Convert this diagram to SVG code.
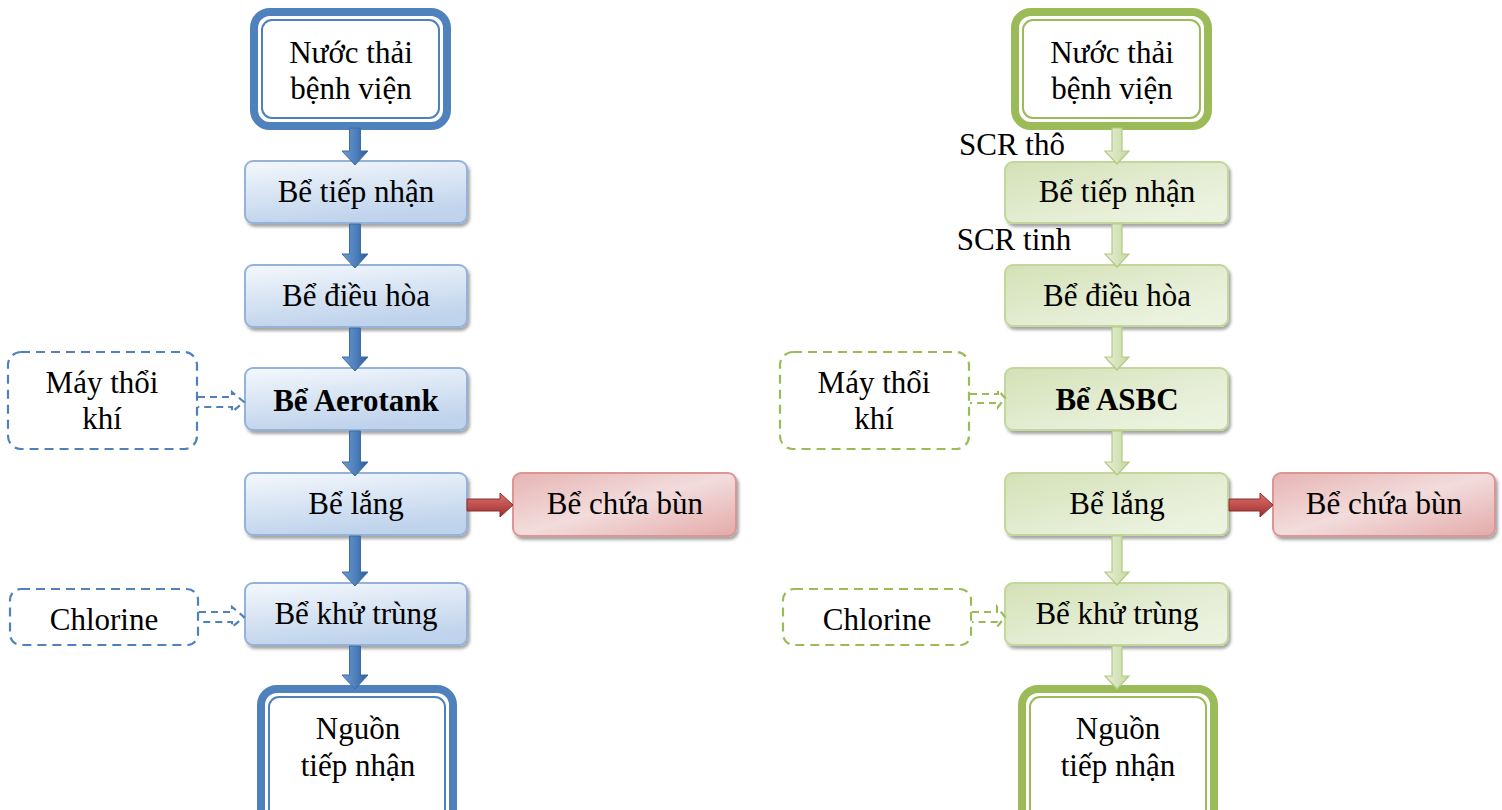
<svg xmlns="http://www.w3.org/2000/svg" width="1502" height="810" viewBox="0 0 1502 810">
<defs>
<linearGradient id="gBlue" x1="0" y1="0" x2="0.3" y2="1"><stop offset="0" stop-color="#f4f8fc"/><stop offset="1" stop-color="#bfd3ec"/></linearGradient>
<linearGradient id="gGreen" x1="0" y1="0" x2="1" y2="1"><stop offset="0" stop-color="#d3e1b6"/><stop offset="0.6" stop-color="#e6eed6"/><stop offset="1" stop-color="#eef4e4"/></linearGradient>
<linearGradient id="gRed" x1="0" y1="0" x2="1" y2="1"><stop offset="0" stop-color="#e6b4b3"/><stop offset="0.5" stop-color="#f3dcdc"/><stop offset="1" stop-color="#e3aaa9"/></linearGradient>
<linearGradient id="aBlue" x1="0" y1="0" x2="1" y2="0"><stop offset="0" stop-color="#6e9ad2"/><stop offset="0.5" stop-color="#4f81bd"/><stop offset="1" stop-color="#2e5d96"/></linearGradient>
<linearGradient id="aGreen" x1="0" y1="0" x2="1" y2="0"><stop offset="0" stop-color="#e8f0d8"/><stop offset="0.5" stop-color="#d7e4bd"/><stop offset="1" stop-color="#c5d89f"/></linearGradient>
<linearGradient id="aRed" x1="0" y1="0" x2="0" y2="1"><stop offset="0" stop-color="#d9706c"/><stop offset="0.5" stop-color="#c0504d"/><stop offset="1" stop-color="#8f302d"/></linearGradient>
<filter id="sh" x="-10%" y="-10%" width="130%" height="140%"><feDropShadow dx="2" dy="3" stdDeviation="1.5" flood-color="#000" flood-opacity="0.35"/></filter>
</defs>
<style>
text{font-family:"Liberation Serif","Times New Roman",serif;font-size:31px;fill:#000;text-anchor:middle}
.b{font-weight:bold}
.bb{fill:url(#gBlue);stroke:#95b3d7;stroke-width:2;filter:url(#sh)}
.gb{fill:url(#gGreen);stroke:#c3d69b;stroke-width:2;filter:url(#sh)}
.rb{fill:url(#gRed);stroke:#d99694;stroke-width:2;filter:url(#sh)}
.fo{fill:#fff;stroke-width:8}
.fi{fill:none;stroke-width:2}
.blue{stroke:#4f81bd}
.green{stroke:#9bbb59}
.db{fill:#fff;stroke-width:2.2;stroke-dasharray:9 6}
.da{fill:none;stroke-width:2.2;stroke-dasharray:7 5}
.ab{fill:url(#aBlue);stroke:#3d6ca6;stroke-width:1}
.ag{fill:url(#aGreen);stroke:#b3ca84;stroke-width:1.2}
.ar{fill:url(#aRed);stroke:#8c2f2c;stroke-width:1}
</style>

<!-- LEFT COLUMN -->
<g id="l-src"><rect class="fo blue" x="254" y="12" width="193" height="114" rx="16"/><rect class="fi blue" x="262" y="20" width="177" height="98" rx="10"/><text x="351" y="63">Nước thải</text><text x="351" y="99">bệnh viện</text></g>
<g id="l-tiepnhan"><rect class="bb" x="245" y="161" width="222" height="62" rx="8"/><text x="356" y="202">Bể tiếp nhận</text></g>
<g id="l-dieuhoa"><rect class="bb" x="245" y="265" width="222" height="62" rx="8"/><text x="356" y="306">Bể điều hòa</text></g>
<g id="l-aerotank"><rect class="bb" x="245" y="368" width="222" height="62" rx="8"/><text class="b" x="356" y="411">Bể Aerotank</text></g>
<g id="l-lang"><rect class="bb" x="245" y="473" width="222" height="62" rx="8"/><text x="356" y="514">Bể lắng</text></g>
<g id="l-khutrung"><rect class="bb" x="245" y="583" width="222" height="62" rx="8"/><text x="356" y="624">Bể khử trùng</text></g>
<g id="l-dst"><rect class="fo blue" x="261" y="689" width="192" height="140" rx="16"/><rect class="fi blue" x="269" y="697" width="176" height="130" rx="10"/><text x="358" y="739">Nguồn</text><text x="358" y="776">tiếp nhận</text></g>
<g id="l-bun"><rect class="rb" x="513" y="473" width="223" height="63" rx="8"/><text x="625" y="514">Bể chứa bùn</text></g>
<g id="l-may"><rect class="db blue" x="8" y="352" width="189" height="97" rx="13"/><text x="102" y="393">Máy thổi</text><text x="102" y="429">khí</text></g>
<g id="l-cl"><rect class="db blue" x="10" y="589" width="188" height="56" rx="11"/><text x="104" y="630">Chlorine</text></g>

<!-- RIGHT COLUMN -->
<g id="r-src"><rect class="fo green" x="1015" y="12" width="193" height="114" rx="16"/><rect class="fi green" x="1023" y="20" width="177" height="98" rx="10"/><text x="1112" y="63">Nước thải</text><text x="1112" y="99">bệnh viện</text></g>
<g id="r-tiepnhan"><rect class="gb" x="1005" y="162" width="223" height="61" rx="8"/><text x="1117" y="202">Bể tiếp nhận</text></g>
<g id="r-dieuhoa"><rect class="gb" x="1005" y="265" width="223" height="61" rx="8"/><text x="1117" y="306">Bể điều hòa</text></g>
<g id="r-asbc"><rect class="gb" x="1005" y="368" width="223" height="62" rx="8"/><text class="b" x="1117" y="410">Bể ASBC</text></g>
<g id="r-lang"><rect class="gb" x="1005" y="473" width="223" height="62" rx="8"/><text x="1117" y="514">Bể lắng</text></g>
<g id="r-khutrung"><rect class="gb" x="1005" y="583" width="223" height="62" rx="8"/><text x="1117" y="624">Bể khử trùng</text></g>
<g id="r-dst"><rect class="fo green" x="1022" y="689" width="192" height="140" rx="16"/><rect class="fi green" x="1030" y="697" width="176" height="130" rx="10"/><text x="1118" y="739">Nguồn</text><text x="1118" y="776">tiếp nhận</text></g>
<g id="r-bun"><rect class="rb" x="1273" y="473" width="222" height="63" rx="8"/><text x="1384" y="514">Bể chứa bùn</text></g>
<g id="r-may"><rect class="db green" x="780" y="352" width="189" height="97" rx="13"/><text x="874" y="393">Máy thổi</text><text x="874" y="429">khí</text></g>
<g id="r-cl"><rect class="db green" x="783" y="589" width="188" height="56" rx="11"/><text x="877" y="630">Chlorine</text></g>

<g id="labels"><text x="1012" y="155">SCR thô</text><text x="1014" y="250">SCR tinh</text></g>

<!-- CONNECTORS -->
<g id="connectors">
<path class="ab" d="M349.5,128 H360.5 V151 H368 L355,165 L342,151 H349.5 Z"/>
<path class="ab" d="M349.5,224 H360.5 V254 H368 L355,268 L342,254 H349.5 Z"/>
<path class="ab" d="M349.5,328 H360.5 V357 H368 L355,371 L342,357 H349.5 Z"/>
<path class="ab" d="M349.5,431 H360.5 V462 H368 L355,476 L342,462 H349.5 Z"/>
<path class="ab" d="M349.5,536 H360.5 V572 H368 L355,586 L342,572 H349.5 Z"/>
<path class="ab" d="M349.5,646 H360.5 V675 H368 L355,689 L342,675 H349.5 Z"/>
<path class="ar" d="M467,499 H500 V493 L513,505 L500,517 V511 H467 Z"/>
<path class="ar" d="M1229,499 H1260 V493 L1273,505 L1260,517 V511 H1229 Z"/>

<path class="ag" d="M1112,128 H1122 V151 H1129 L1117,164 L1105,151 H1112 Z"/>
<path class="ag" d="M1112,224 H1122 V254 H1129 L1117,267 L1105,254 H1112 Z"/>
<path class="ag" d="M1112,327 H1122 V357 H1129 L1117,370 L1105,357 H1112 Z"/>
<path class="ag" d="M1112,431 H1122 V462 H1129 L1117,475 L1105,462 H1112 Z"/>
<path class="ag" d="M1112,536 H1122 V572 H1129 L1117,585 L1105,572 H1112 Z"/>
<path class="ag" d="M1112,646 H1122 V676 H1129 L1117,689 L1105,676 H1112 Z"/>

<path class="da blue" d="M198,397 H232 V392 L244,402 L232,412 V407 H198"/>
<path class="da blue" d="M199,612 H232 V607 L244,617 L232,627 V622 H199"/>
<path class="da green" d="M970,394 H998 V390 L1005,398 L998,407 V403 H970"/>
<path class="da green" d="M972,612 H997 V607 L1005,617 L997,627 V622 H972"/>
</g>
</svg>
